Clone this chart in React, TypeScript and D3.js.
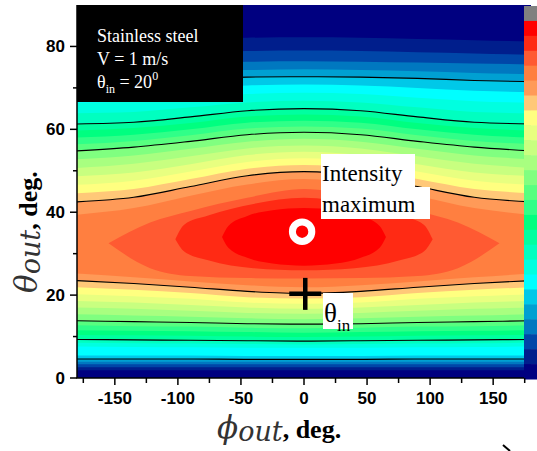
import React from "react";
import * as d3 from "d3";

// colour of each intensity level, low -> high (jet-like map of the figure)
const levelColors = [
  "#000080", "#001e8c", "#0046a8", "#0078c0", "#00a0d2", "#00c8e8",
  "#00ffff", "#00ffe0", "#00ffc0", "#00ffa0", "#00ff80", "#30ff88",
  "#58ff80", "#80ff80", "#a8ff80", "#c8ff80", "#e8ff80", "#ffff80",
  "#ffc878", "#ff9a58", "#ff7f40", "#ff5a32", "#ff2a14", "#ff0000",
];
const overColor = "#808080";

// phi columns where the open (full width) level boundaries were read
const phiCols = [-180, -135, -90, -45, 0, 45, 90, 135, 180];

// theta (deg) of the lower boundary of levels 1..20
const lowerTheta = [
  [1.9, 1.9, 1.9, 1.9, 1.9, 1.9, 1.9, 1.9, 1.9],
  [2.6, 2.6, 2.6, 2.6, 2.6, 2.6, 2.6, 2.6, 2.6],
  [3.3, 3.3, 3.3, 3.3, 3.3, 3.3, 3.3, 3.3, 3.3],
  [3.9, 3.9, 3.9, 3.9, 3.9, 3.9, 3.9, 3.9, 3.9],
  [4.6, 4.6, 4.6, 4.5, 4.5, 4.5, 4.6, 4.6, 4.6],
  [5.4, 5.4, 5.4, 5.3, 5.3, 5.3, 5.4, 5.4, 5.4],
  [7.6, 7.5, 7.4, 7.3, 7.3, 7.3, 7.4, 7.5, 7.6],
  [8.5, 8.4, 8.3, 8.2, 8.1, 8.2, 8.3, 8.4, 8.5],
  [9.3, 9.2, 9.1, 9.0, 8.9, 9.0, 9.1, 9.2, 9.3],
  [10.4, 10.3, 10.2, 10.0, 9.9, 10.0, 10.2, 10.3, 10.4],
  [11.5, 11.4, 11.3, 11.1, 10.9, 11.1, 11.3, 11.4, 11.5],
  [12.7, 12.5, 12.4, 12.1, 12.0, 12.1, 12.4, 12.5, 12.7],
  [13.8, 13.6, 13.4, 13.1, 13.0, 13.1, 13.4, 13.6, 13.8],
  [15.4, 15.1, 14.8, 14.4, 14.2, 14.4, 14.8, 15.1, 15.4],
  [17.0, 16.7, 16.2, 15.7, 15.5, 15.7, 16.2, 16.7, 17.0],
  [18.6, 18.2, 17.6, 17.0, 16.7, 17.0, 17.6, 18.2, 18.6],
  [20.2, 19.7, 19.1, 18.2, 17.9, 18.2, 19.1, 19.7, 20.2],
  [21.9, 21.3, 20.5, 19.5, 19.2, 19.5, 20.5, 21.3, 21.9],
  [23.5, 22.8, 21.9, 20.9, 20.4, 20.9, 21.9, 22.8, 23.5],
  [25.2, 24.3, 23.3, 22.4, 21.9, 22.4, 23.3, 24.3, 25.2],
];

// theta (deg) of the upper boundary of levels 1..20
const upperTheta = [
  [81.2, 81.5, 81.8, 82.1, 82.2, 82.1, 81.8, 81.5, 81.2],
  [78.0, 78.3, 78.6, 78.9, 79.0, 78.9, 78.6, 78.3, 78.0],
  [75.7, 75.9, 76.1, 76.3, 76.4, 76.3, 76.1, 75.9, 75.7],
  [73.3, 73.6, 74.0, 74.3, 74.5, 74.3, 74.0, 73.6, 73.3],
  [71.5, 71.8, 72.3, 72.6, 72.7, 72.6, 72.3, 71.8, 71.5],
  [69.0, 69.3, 70.0, 70.6, 70.8, 70.6, 70.0, 69.3, 69.0],
  [66.4, 66.8, 67.6, 68.5, 68.8, 68.5, 67.6, 66.8, 66.4],
  [63.9, 64.2, 65.3, 66.5, 66.9, 66.5, 65.3, 64.2, 63.9],
  [61.3, 61.7, 63.0, 64.5, 65.0, 64.5, 63.0, 61.7, 61.3],
  [59.7, 60.3, 61.5, 63.1, 63.6, 63.1, 61.5, 60.3, 59.7],
  [58.0, 58.7, 60.0, 61.6, 62.1, 61.6, 60.0, 58.7, 58.0],
  [56.4, 57.2, 58.6, 60.2, 60.7, 60.2, 58.6, 57.2, 56.4],
  [54.8, 55.7, 57.1, 58.7, 59.3, 58.7, 57.1, 55.7, 54.8],
  [52.8, 53.7, 55.3, 57.0, 57.7, 57.0, 55.3, 53.7, 52.8],
  [50.7, 51.7, 53.5, 55.4, 56.1, 55.4, 53.5, 51.7, 50.7],
  [48.7, 49.6, 51.6, 53.8, 54.6, 53.8, 51.6, 49.6, 48.7],
  [46.6, 47.6, 49.8, 52.1, 53.0, 52.1, 49.8, 47.6, 46.6],
  [44.6, 45.6, 48.0, 50.5, 51.4, 50.5, 48.0, 45.6, 44.6],
  [42.5, 43.6, 46.2, 48.8, 49.8, 48.8, 46.2, 43.6, 42.5],
  [39.4, 41.0, 44.0, 46.7, 48.0, 46.7, 44.0, 41.0, 39.4],
];

// closed levels 21..23 around the maximum: own phi points
const closedPhi = [
  [-155, -122, -90, -45, 0, 45, 90, 122, 155],
  [-102, -95, -76, -40, 0, 40, 76, 95, 102],
  [-65, -60, -45, -25, 0, 25, 45, 60, 65],
];
const closedLower = [
  [32.5, 26.5, 24.6, 24.1, 24.0, 24.1, 24.6, 26.5, 32.5],
  [33.5, 30.5, 28.4, 26.5, 26.0, 26.5, 28.4, 30.5, 33.5],
  [34.0, 31.4, 29.0, 27.6, 27.1, 27.6, 29.0, 31.4, 34.0],
];
const closedUpper = [
  [32.5, 37.5, 40.3, 43.5, 45.6, 43.5, 40.3, 37.5, 32.5],
  [33.5, 37.0, 39.2, 42.0, 43.5, 42.0, 39.2, 37.0, 33.5],
  [34.0, 36.7, 39.1, 40.5, 41.0, 40.5, 39.1, 36.7, 34.0],
];

// levels whose boundaries are traced with black contour lines
const lineLevels = [5, 9, 13, 19];

const xMajor = [-150, -100, -50, 0, 50, 100, 150];
const xMinor = [-175, -125, -75, -25, 25, 75, 125, 175];
const yMajor = [0, 20, 40, 60, 80];
const yMinor = [10, 30, 50, 70];

const maxPoint = { phi: -1.5, theta: 35.3 };
const inPoint = { phi: 1, theta: 20.3 };

const W = 537;
const H = 451;

export default function App() {
  const x = d3.scaleLinear().domain([-180, 180]).range([77, 531]);
  const y = d3.scaleLinear().domain([0, 90]).range([378, 5]);

  const area = d3
    .area<[number, number, number]>()
    .x((d) => x(d[0]))
    .y0((d) => y(d[1]))
    .y1((d) => y(d[2]))
    .curve(d3.curveMonotoneX);
  const line = d3
    .line<[number, number]>()
    .x((d) => x(d[0]))
    .y((d) => y(d[1]))
    .curve(d3.curveMonotoneX);

  const regions: { d: string; fill: string }[] = [];
  lowerTheta.forEach((lo, i) => {
    const pts = phiCols.map((p, j) => [p, lo[j], upperTheta[i][j]] as [number, number, number]);
    regions.push({ d: area(pts) as string, fill: levelColors[i + 1] });
  });
  closedPhi.forEach((ph, i) => {
    const pts = ph.map((p, j) => [p, closedLower[i][j], closedUpper[i][j]] as [number, number, number]);
    regions.push({ d: area(pts) as string, fill: levelColors[21 + i] });
  });

  const contourPaths: string[] = [];
  lineLevels.forEach((lv) => {
    contourPaths.push(line(phiCols.map((p, j) => [p, lowerTheta[lv - 1][j]] as [number, number])) as string);
    contourPaths.push(line(phiCols.map((p, j) => [p, upperTheta[lv - 1][j]] as [number, number])) as string);
  });

  // colour bar: grey on top, then the levels from high to low
  const barColors = [overColor, ...[...levelColors].reverse()];
  const bar = d3.scaleBand<number>().domain(d3.range(barColors.length)).range([6, 379]);

  const serif = "'Liberation Serif', 'Times New Roman', serif";
  const math = "'DejaVu Serif', serif";
  const sans = "'Liberation Sans', Arial, sans-serif";

  return (
    <svg
      width={W}
      height={H}
      style={{ position: "absolute", left: 0, top: 0, background: "#fff" }}
    >
      <defs>
        <clipPath id="plot">
          <rect x={x(-180)} y={y(90)} width={x(180) - x(-180)} height={y(0) - y(90)} />
        </clipPath>
      </defs>

      <g clipPath="url(#plot)">
        <rect x={x(-180)} y={y(90)} width={x(180) - x(-180)} height={y(0) - y(90)} fill={levelColors[0]} />
        {regions.map((r, i) => (
          <path key={i} d={r.d} fill={r.fill} />
        ))}
        {contourPaths.map((d, i) => (
          <path key={i} d={d} fill="none" stroke="#000" strokeWidth={1.1} />
        ))}
      </g>

      {/* colour bar */}
      {barColors.map((c, i) => (
        <rect key={i} x={524} y={bar(i)} width={14} height={bar.bandwidth() + 0.5} fill={c} />
      ))}

      {/* axes */}
      <line x1={77} x2={77} y1={5} y2={378} stroke="#000" strokeWidth={1.5} />
      <line x1={76.25} x2={524} y1={378} y2={378} stroke="#000" strokeWidth={1.5} />
      {yMajor.map((t) => (
        <g key={t}>
          <line x1={70} x2={77} y1={y(t)} y2={y(t)} stroke="#000" strokeWidth={1.5} />
          <text x={65} y={y(t) + 6} textAnchor="end" fontFamily={sans} fontWeight="bold" fontSize={17}>
            {t}
          </text>
        </g>
      ))}
      {yMinor.map((t) => (
        <line key={t} x1={73} x2={77} y1={y(t)} y2={y(t)} stroke="#000" strokeWidth={1.5} />
      ))}
      {xMajor.map((t) => (
        <g key={t}>
          <line x1={x(t)} x2={x(t)} y1={378} y2={385} stroke="#000" strokeWidth={1.5} />
          <text x={x(t)} y={404} textAnchor="middle" fontFamily={sans} fontWeight="bold" fontSize={17}>
            {t}
          </text>
        </g>
      ))}
      {xMinor.map((t) => (
        <line key={t} x1={x(t)} x2={x(t)} y1={378} y2={383} stroke="#000" strokeWidth={1.5} />
      ))}

      {/* axis titles */}
      <text x={217} y={438}>
        <tspan fontFamily={math} fontStyle="italic" fontSize={31} fill="#333">ϕ</tspan>
        <tspan fontFamily={math} fontStyle="italic" fontSize={27} dy={3} fill="#333">out</tspan>
        <tspan fontFamily={serif} fontWeight="bold" fontSize={26} dy={-3}>, deg.</tspan>
      </text>
      <text transform="translate(37,293) rotate(-90)">
        <tspan fontFamily={math} fontStyle="italic" fontSize={31} fill="#333">θ</tspan>
        <tspan fontFamily={math} fontStyle="italic" fontSize={27} dy={3} fill="#333">out</tspan>
        <tspan fontFamily={serif} fontWeight="bold" fontSize={26} dy={-3}>, deg.</tspan>
      </text>

      {/* info box */}
      <rect x={77} y={5} width={166} height={97} fill="#000" />
      <g fill="#fff" fontFamily={serif} fontSize={18}>
        <text x={97} y={42}>Stainless steel</text>
        <text x={97} y={65}>V = 1 m/s</text>
        <text x={97} y={88}>
          θ<tspan fontSize={12} dy={5}>in</tspan>
          <tspan dy={-5}> = 20</tspan>
          <tspan fontSize={12} dy={-8}>0</tspan>
        </text>
      </g>

      {/* markers */}
      <circle cx={x(maxPoint.phi)} cy={y(maxPoint.theta)} r={9.7} fill="none" stroke="#fff" strokeWidth={7} />
      <g stroke="#000" strokeWidth={4.5}>
        <line x1={x(inPoint.phi) - 16} x2={x(inPoint.phi) + 16} y1={y(inPoint.theta)} y2={y(inPoint.theta)} />
        <line x1={x(inPoint.phi)} x2={x(inPoint.phi)} y1={y(inPoint.theta) - 16} y2={y(inPoint.theta) + 16} />
      </g>

      {/* annotations */}
      <rect x={321} y={154} width={94} height={34} fill="#fff" />
      <rect x={321} y={187} width={109} height={32} fill="#fff" />
      <text x={322} y={181} fontFamily={serif} fontSize={23}>Intensity</text>
      <text x={322} y={212} fontFamily={serif} fontSize={23}>maximum</text>

      <rect x={323} y={293} width={30} height={36} fill="#fff" />
      <text x={324} y={322} fontFamily={serif} fontSize={27}>
        θ<tspan fontSize={17} dy={9}>in</tspan>
      </text>

      <path d="M503,445 L510,451" stroke="#000" strokeWidth={2} />
    </svg>
  );
}
